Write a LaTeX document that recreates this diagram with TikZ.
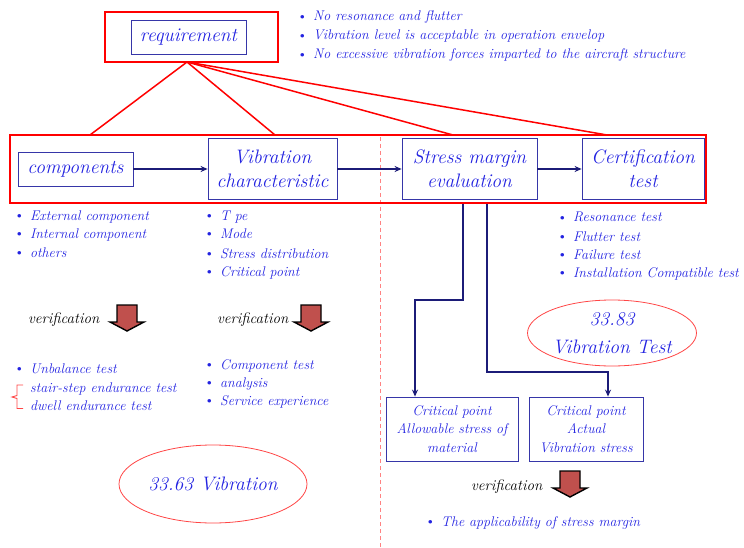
\documentclass[tikz,border=0pt]{standalone}
\usepackage{fontspec}
\usetikzlibrary{arrows.meta,shapes.geometric,calc}
\definecolor{txtblue}{RGB}{35,35,225}
\definecolor{boxblue}{RGB}{54,54,168}
\definecolor{navy}{RGB}{28,28,120}
\definecolor{ellred}{RGB}{255,70,70}
\definecolor{dashpink}{RGB}{255,130,130}
\definecolor{arrred}{RGB}{192,80,77}
\newcommand\bl{\makebox[13pt][l]{\hspace*{-3.5pt}\raisebox{-0.4pt}{\upshape\fontsize{16}{16}\selectfont\textbullet}}}
\newcommand\varrow[2]{%
  \draw[fill=arrred,draw=black,line width=1.4pt,line join=miter]
    (#1-10,#2) -- (#1+10,#2) -- (#1+10,#2+17) -- (#1+17,#2+17) -- (#1,#2+26)
    -- (#1-17,#2+17) -- (#1-10,#2+17) -- cycle;}
\tikzset{
  redframe/.style={draw=red,line width=2.5pt,inner sep=0pt},
  redline/.style={draw=red,line width=1.5pt},
  bbox/.style={draw=boxblue,line width=0.8pt,fill=white,text=txtblue,inner sep=0pt,
    align=center,font=\itshape\fontsize{19.5}{24}\selectfont},
  sbox/.style={draw=boxblue,line width=0.8pt,text=txtblue,inner sep=0pt,
    align=center,font=\itshape\fontsize{14}{18.5}\selectfont},
  flow/.style={draw=navy,line width=1.8pt,-{Stealth[length=7pt,width=6pt]}},
  bul/.style={anchor=base west,inner sep=0pt,text=txtblue,font=\itshape\fontsize{14}{16}\selectfont},
  verif/.style={anchor=base west,inner sep=0pt,text=black,font=\itshape\fontsize{15}{16}\selectfont},
  oval/.style={ellipse,draw=ellred,line width=0.8pt,inner sep=0pt,text=txtblue,
    align=center,font=\itshape\fontsize{19.5}{28}\selectfont},
  dashline/.style={draw=dashpink,line width=0.9pt,dash pattern=on 4pt off 3pt}
}
\begin{document}
\begin{tikzpicture}[x=1pt,y=-1pt]
\useasboundingbox (0,0) rectangle (744,548);
% requirement
\node[redframe,minimum width=173pt,minimum height=50pt] (reqframe) at (191.5,37) {};
\node[bbox,minimum width=115pt,minimum height=34pt,fill=none] (req) at (188.5,37) {requirement};
\coordinate (apex) at (187,62);
% top bullets
\node[bul] (r1) at (300,21) {\bl No resonance and flutter};
\node[bul] (r2) at (300,40) {\bl Vibration level is acceptable in operation envelop};
\node[bul] (r3) at (300,59) {\bl No excessive vibration forces imparted to the aircraft structure};
% dashed divider
\draw[dashline] (380,137) -- (380,548);
% big frame
\node[redframe,minimum width=696pt,minimum height=68pt] (bigframe) at (358,169) {};
\coordinate (t1) at (90,135);
\coordinate (t2) at (275,135);
\coordinate (t3) at (453,135);
\coordinate (t4) at (607,135);
\draw[redline] (t1) -- (apex) -- (t2);
\draw[redline] (apex) -- (t3);
\draw[redline] (apex) -- (t4);
% main boxes
\node[bbox,minimum width=115pt,minimum height=34pt] (comp) at (75.5,169) {components};
\node[bbox,minimum width=129pt,minimum height=61pt] (vib) at (272.5,168.5) {Vibration\\characteristic};
\node[bbox,minimum width=135pt,minimum height=61pt] (stress) at (469.5,168.5) {Stress margin\\evaluation};
\node[bbox,minimum width=122pt,minimum height=61pt] (cert) at (643,168.5) {Certification\\test};
\draw[flow] (comp.east) -- (vib.west |- comp.east);
\draw[flow] (vib.east |- comp.east) -- (stress.west |- comp.east);
\draw[flow] (stress.east |- comp.east) -- (cert.west |- comp.east);
% bullet lists
\node[bul] (a1) at (17,220) {\bl External component};
\node[bul] (a2) at (17,238) {\bl Internal component};
\node[bul] (a3) at (17,257) {\bl others};
\node[bul] (b1) at (207,220) {\bl T pe};
\node[bul] (b2) at (207,238) {\bl Mode};
\node[bul] (b3) at (207,258) {\bl Stress distribution};
\node[bul] (b4) at (207,276) {\bl Critical point};
\node[bul] (c1) at (560,222) {\bl Resonance test};
\node[bul] (c2) at (560,241) {\bl Flutter test};
\node[bul] (c3) at (560,259) {\bl Failure test};
\node[bul] (c4) at (560,277) {\bl Installation Compatible test};
% verification
\node[verif] (v1) at (28,323) {verification};
\varrow{127}{305}
\node[verif] (v2) at (217,323) {verification};
\varrow{311}{305}
\node[bul] (d1) at (17,373) {\bl Unbalance test};
\node[bul] (d2) at (30,392) {stair-step endurance test};
\node[bul] (d3) at (30,410) {dwell endurance test};
\draw[draw=ellred,line width=0.9pt] (23,385) -- (17,385) -- (17,395.5) -- (12,397) -- (17,398.5) -- (17,408.5) -- (23,408.5);
\node[bul] (f1) at (207,369) {\bl Component test};
\node[bul] (f2) at (207,387) {\bl analysis};
\node[bul] (f3) at (207,405) {\bl Service experience};
% ellipses
\node[oval,minimum width=164pt,minimum height=66pt] (e1) at (612,333) {33.83\\Vibration Test};
\node[oval,minimum width=188pt,minimum height=78pt] (e2) at (213,484) {33.63 Vibration};
% stress branches
\node[sbox,minimum width=132pt,minimum height=64pt] (box1) at (452,429) {Critical point\\Allowable stress of\\material};
\node[sbox,minimum width=114pt,minimum height=64pt] (box2) at (586,429) {Critical point\\Actual\\Vibration stress};
\coordinate (s1) at (463,204);
\coordinate (k1) at (415,300);
\coordinate (s2) at (487,204);
\coordinate (k2) at (608,372);
\draw[flow,line join=miter] (s1) |- (k1) -- (box1.north -| k1);
\draw[flow,line join=miter] (s2) |- (k2) -- (box2.north -| k2);
% bottom verification
\node[verif] (v3) at (471,490) {verification};
\varrow{570}{471}
\node[bul] (g1) at (428,526) {\bl The applicability of stress margin};
\end{tikzpicture}
\end{document}
